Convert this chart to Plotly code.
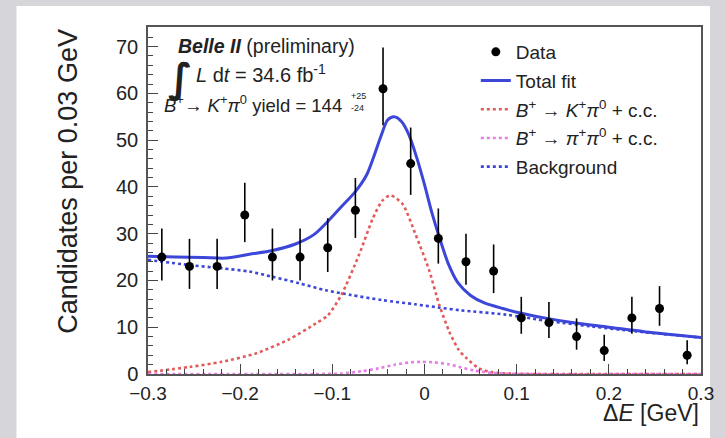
import plotly.graph_objects as go

# ---- data ----
bin_centers = [-0.285, -0.255, -0.225, -0.195, -0.165, -0.135, -0.105, -0.075, -0.045, -0.015,
               0.015, 0.045, 0.075, 0.105, 0.135, 0.165, 0.195, 0.225, 0.255, 0.285]
counts = [25, 23, 23, 34, 25, 25, 27, 35, 61, 45, 29, 24, 22, 12, 11, 8, 5, 12, 14, 4]
err_up = [6.1, 5.9, 5.9, 6.9, 6.1, 6.1, 6.3, 6.9, 8.8, 7.7, 6.4, 6.0, 5.7, 4.5, 4.4, 3.9, 3.4, 4.5, 4.8, 3.2]
err_down = [5.0, 4.8, 4.8, 5.8, 5.0, 5.0, 5.2, 5.9, 7.8, 6.7, 5.4, 4.9, 4.7, 3.4, 3.3, 2.8, 2.2, 3.4, 3.7, 1.9]

total_x = [-0.300, -0.270, -0.240, -0.215, -0.190, -0.165, -0.140, -0.120, -0.105, -0.090, -0.075,
           -0.063, -0.055, -0.047, -0.040, -0.033, -0.025, -0.017, -0.008, 0.000, 0.008, 0.016,
           0.026, 0.036, 0.050, 0.065, 0.085, 0.105, 0.130, 0.160, 0.200, 0.240, 0.270, 0.300]
total_y = [25.2, 25.0, 24.9, 24.8, 25.6, 26.4, 27.8, 29.8, 32.6, 35.8, 39.0,
           42.5, 46.5, 51.0, 54.3, 55.0, 54.0, 51.2, 46.0, 40.5, 34.5, 29.3,
           23.5, 19.6, 16.8, 15.2, 14.0, 13.0, 12.0, 11.0, 10.0, 9.0, 8.4, 7.8]

bkg_x = [-0.300, -0.255, -0.220, -0.190, -0.165, -0.136, -0.107, -0.080, -0.046, -0.010,
         0.016, 0.040, 0.088, 0.135, 0.180, 0.230, 0.300]
bkg_y = [24.4, 23.3, 22.6, 21.9, 20.8, 19.4, 17.9, 16.9, 15.8, 14.9,
         14.2, 13.6, 12.7, 11.3, 10.2, 9.1, 7.8]

sig_x = [-0.300, -0.255, -0.220, -0.183, -0.147, -0.118, -0.105, -0.090, -0.071, -0.056, -0.046,
         -0.037, -0.024, -0.010, 0.005, 0.016, 0.027, 0.037, 0.045, 0.059, 0.073, 0.090, 0.120, 0.300]
sig_y = [0.4, 1.5, 2.6, 4.4, 7.4, 10.8, 12.5, 17.0, 25.5, 33.3, 37.0,
         38.2, 36.4, 30.0, 22.2, 14.8, 9.0, 5.2, 3.5, 1.2, 0.4, 0.1, 0.0, 0.0]

pipi_x = [-0.300, -0.120, -0.090, -0.068, -0.050, -0.032, -0.015, -0.003, 0.010, 0.026,
          0.040, 0.055, 0.075, 0.100, 0.300]
pipi_y = [0.0, 0.0, 0.1, 0.6, 1.2, 2.0, 2.5, 2.6, 2.5, 2.1,
          1.4, 0.7, 0.2, 0.0, 0.0]

x_tickvals = [-0.3, -0.2, -0.1, 0.0, 0.1, 0.2, 0.3]
x_ticktext = ["\u22120.3", "\u22120.2", "\u22120.1", "0", "0.1", "0.2", "0.3"]
y_tickvals = [0, 10, 20, 30, 40, 50, 60, 70]

# ---- styling ----
FONT = "Liberation Sans, Arial, Helvetica, sans-serif"
BLUE = "#3c46d8"
RED = "#e25a5a"
MAGENTA = "#e57fe5"
TXT = "#222222"

fig = go.Figure()

fig.add_trace(go.Scatter(x=bkg_x, y=bkg_y, mode="lines", name="Background",
                         line=dict(color=BLUE, width=2.6, dash="3px,3px", shape="spline", smoothing=0.8),
                         legendgroup="g5", legendrank=5))
fig.add_trace(go.Scatter(x=sig_x, y=sig_y, mode="lines",
                         name="<i>B</i><sup>+</sup> \u2192 <i>K</i><sup>+</sup><i>\u03c0</i><sup>0</sup> + c.c.",
                         line=dict(color=RED, width=2.6, dash="3px,3px", shape="spline", smoothing=0.7),
                         legendgroup="g3", legendrank=3))
fig.add_trace(go.Scatter(x=pipi_x, y=pipi_y, mode="lines",
                         name="<i>B</i><sup>+</sup> \u2192 <i>\u03c0</i><sup>+</sup><i>\u03c0</i><sup>0</sup> + c.c.",
                         line=dict(color=MAGENTA, width=2.6, dash="3px,3px", shape="spline", smoothing=0.6),
                         legendgroup="g4", legendrank=4))
fig.add_trace(go.Scatter(x=total_x, y=total_y, mode="lines", name="Total fit",
                         line=dict(color=BLUE, width=3, shape="spline", smoothing=0.8),
                         legendgroup="g2", legendrank=2))
fig.add_trace(go.Scatter(x=bin_centers, y=counts, mode="markers", name="Data",
                         marker=dict(color="black", size=9),
                         error_y=dict(type="data", array=err_up, arrayminus=err_down,
                                      color="black", thickness=1.6, width=0),
                         legendgroup="g1", legendrank=1))

# grey surround with white panel
fig.add_shape(type="rect", xref="paper", yref="paper",
              x0=(16 - 148) / 555, x1=(712 - 148) / 555,
              y0=-0.3, y1=(374 - 6) / 347,
              fillcolor="white", line=dict(width=0), layer="below")

ann = []
ann.append(dict(text="<b><i>Belle II</i></b> (preliminary)", x=(176 - 148) / 555, y=(374 - 46) / 347,
                xanchor="left", yanchor="middle", font=dict(size=19.5, color=TXT)))
ann.append(dict(text="<b>\u222b</b>", x=(166 - 148) / 555, y=(374 - 79) / 347,
                xanchor="left", yanchor="middle", font=dict(size=40, color=TXT, family="DejaVu Sans")))
ann.append(dict(text="<i>L</i> d<i>t</i> = 34.6 fb<sup>-1</sup>", x=(194 - 148) / 555, y=(374 - 73) / 347,
                xanchor="left", yanchor="middle", font=dict(size=20, color=TXT)))
ann.append(dict(text="<i>B</i><sup>+</sup>\u2192 <i>K</i><sup>+</sup><i>\u03c0</i><sup>0</sup> yield = 144",
                x=(162 - 148) / 555, y=(374 - 104) / 347,
                xanchor="left", yanchor="middle", font=dict(size=18.5, color=TXT)))
ann.append(dict(text="+25", x=(350 - 148) / 555, y=(374 - 96) / 347,
                xanchor="left", yanchor="middle", font=dict(size=9, color=TXT)))
ann.append(dict(text="-24", x=(350 - 148) / 555, y=(374 - 108) / 347,
                xanchor="left", yanchor="middle", font=dict(size=9, color=TXT)))
ann.append(dict(text="Candidates per 0.03 GeV", textangle=-90, x=(67 - 148) / 555, y=(374 - 27) / 347,
                xanchor="center", yanchor="top", font=dict(size=27, color=TXT)))
ann.append(dict(text="\u0394<i>E</i> [GeV]", x=(703 - 148) / 555, y=(374 - 413) / 347,
                xanchor="right", yanchor="middle", font=dict(size=23, color=TXT)))
for a in ann:
    a.update(xref="paper", yref="paper", showarrow=False)
fig.update_layout(annotations=ann)

fig.update_layout(
    width=726, height=438,
    margin=dict(l=148, r=23, t=27, b=64),
    paper_bgcolor="#d6d6da", plot_bgcolor="white",
    font=dict(family=FONT, size=18, color=TXT),
    showlegend=True,
    legend=dict(x=(477 - 148) / 555, y=(374 - 33) / 347, xanchor="left", yanchor="top",
                bgcolor="rgba(0,0,0,0)", borderwidth=0, font=dict(size=19, color=TXT),
                traceorder="grouped", tracegroupgap=1, itemwidth=30),
)
fig.update_xaxes(range=[-0.3, 0.3], tickmode="array", tickvals=x_tickvals, ticktext=x_ticktext,
                 ticks="inside", ticklen=10, tickwidth=1, tickcolor="#444",
                 minor=dict(dtick=0.02, tick0=-0.3, ticklen=5, tickcolor="#444", ticks="inside"),
                 showline=True, linecolor="#555", linewidth=1.5, mirror=True,
                 showgrid=False, zeroline=False, tickfont=dict(size=19, color=TXT),
                 ticklabelstandoff=1)
fig.update_yaxes(range=[0, 74.2], tickmode="array", tickvals=y_tickvals,
                 ticks="inside", ticklen=10, tickwidth=1, tickcolor="#444",
                 minor=dict(dtick=2, tick0=0, ticklen=5, tickcolor="#444", ticks="inside"),
                 showline=True, linecolor="#555", linewidth=1.5, mirror=True,
                 showgrid=False, zeroline=False, tickfont=dict(size=20, color=TXT),
                 ticklabelstandoff=4)

fig.write_html("out.html", config={"displayModeBar": False},
               post_script="document.body.style.margin='0';document.body.style.padding='0';")
